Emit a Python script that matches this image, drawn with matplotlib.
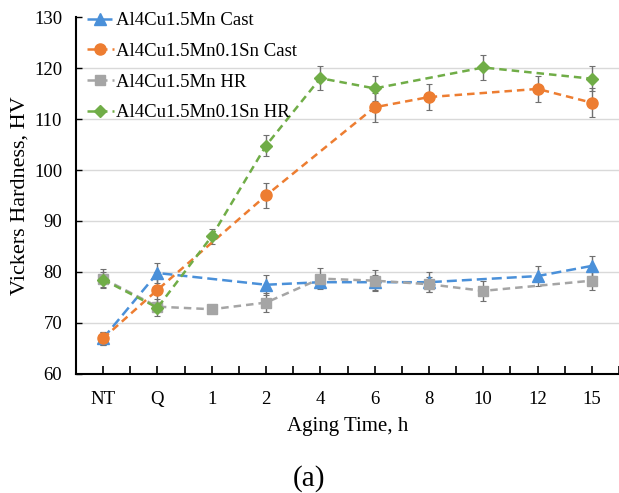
import matplotlib
matplotlib.use("Agg")
import matplotlib.pyplot as plt
import numpy as np

categories = ["NT", "Q", "1", "2", "4", "6", "8", "10", "12", "15"]

cast_mn = [67.0, 79.8, None, 77.5, 78.0, 78.0, 78.0, None, 79.2, 81.2]
cast_mn_err = [1.3, 2.0, None, 2.0, 1.0, 1.5, 2.0, None, 2.0, 2.0]

cast_sn = [67.0, 76.5, None, 95.0, None, 112.3, 114.3, None, 115.9, 113.2]
cast_sn_err = [1.3, 3.5, None, 2.5, None, 2.8, 2.5, None, 2.5, 2.8]

hr_mn = [78.7, 73.2, 72.7, 74.0, 78.7, 78.3, 77.6, 76.3, None, 78.3]
hr_mn_err = [1.8, 1.0, 0.3, 1.8, 2.0, 2.0, 1.5, 2.0, None, 1.8]

hr_sn = [78.5, 73.0, 87.0, 104.8, 118.0, 116.0, None, 120.1, None, 117.9]
hr_sn_err = [1.5, 1.7, 1.5, 2.0, 2.3, 2.5, None, 2.5, None, 2.4]

series = [
    ("Al4Cu1.5Mn Cast", cast_mn, cast_mn_err, "#4A90D9", "^", 8, (0, (4, 2))),
    ("Al4Cu1.5Mn0.1Sn Cast", cast_sn, cast_sn_err, "#ED7D31", "o", 8, (0, (3, 2))),
    ("Al4Cu1.5Mn HR", hr_mn, hr_mn_err, "#A5A5A5", "s", 7, (0, (3, 2))),
    ("Al4Cu1.5Mn0.1Sn HR", hr_sn, hr_sn_err, "#70AD47", "D", 6, (0, (3, 2))),
]

plt.rcParams["font.family"] = ["Liberation Serif", "DejaVu Serif"]

fig = plt.figure(figsize=(6.19, 4.93), dpi=100)
ax = fig.add_axes([0.1228, 0.2414, 0.8772, 0.7241])

x_all = np.arange(len(categories))
for label, vals, errs, color, marker, ms, ls in series:
    xs = [x for x, v in zip(x_all, vals) if v is not None]
    ys = [v for v in vals if v is not None]
    es = [e for e in errs if e is not None]
    ax.errorbar(xs, ys, yerr=es, fmt="none", ecolor="#707070", elinewidth=1.0,
                capsize=2, capthick=0.8, zorder=2)
    ax.plot(xs, ys, linestyle=ls, color=color, linewidth=1.8, marker=marker,
            markersize=ms, markeredgecolor=color, label=label, zorder=3)

ax.set_xlim(-0.5, len(categories) - 0.5)
ax.set_ylim(60, 130)
ax.set_yticks(np.arange(60, 131, 10))
ax.set_xticks(x_all)
ax.set_xticklabels(categories)
ax.set_xticks(np.arange(-0.5, len(categories), 1.0), minor=True)
ax.tick_params(axis="x", which="both", direction="in", length=6, width=1.2,
               labelsize=13.5, pad=12, color="black")
ax.tick_params(axis="y", which="both", direction="in", length=4, width=1.0,
               labelsize=13.5, pad=10)

for y in range(70, 130, 10):
    ax.axhline(y, color="#D9D9D9", linewidth=1.0, zorder=0)

for side in ["top", "right"]:
    ax.spines[side].set_visible(False)
for side in ["left", "bottom"]:
    ax.spines[side].set_linewidth(1.5)
    ax.spines[side].set_color("black")

ax.set_xlabel("Aging Time, h", fontsize=15, labelpad=7)
ax.set_ylabel("Vickers Hardness, HV", fontsize=16, labelpad=3)

leg = ax.legend(loc="upper left", bbox_to_anchor=(0.0, 1.045), frameon=False,
                fontsize=13.5, handlelength=1.4, handletextpad=0.15,
                labelspacing=0.72, borderaxespad=0.2)

fig.text(0.5, 0.030, "(a)", ha="center", va="center", fontsize=21)

fig.savefig("out.png", dpi=100)
